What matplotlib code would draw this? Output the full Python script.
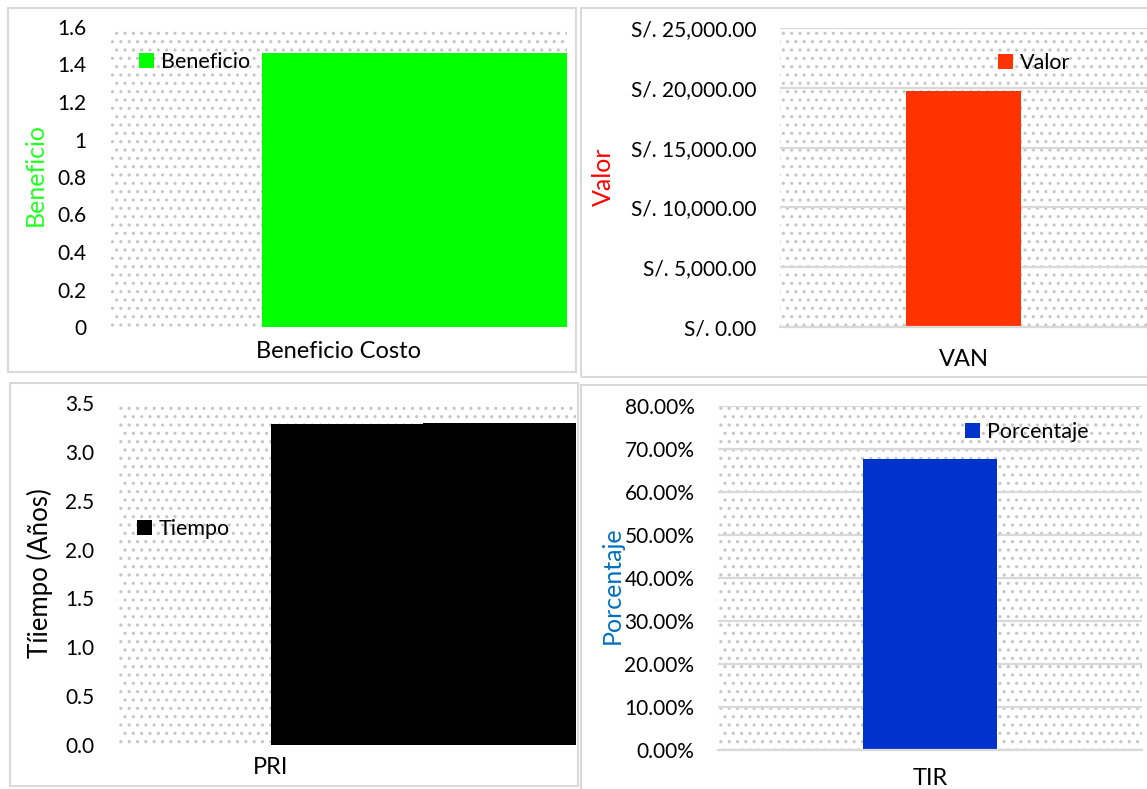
import matplotlib
matplotlib.use("Agg")
import matplotlib.pyplot as plt
from matplotlib.patches import Rectangle
from matplotlib.ticker import FuncFormatter

plt.rcParams['font.family'] = ['Lato', 'DejaVu Sans']
plt.rcParams['hatch.linewidth'] = 1.1

# data
bc_label = ["Beneficio Costo"]
bc_values = [1.46]
van_label = ["VAN"]
van_values = [19700]
pri_label = ["PRI"]
pri_values = [3.28, 3.30]
tir_label = ["TIR"]
tir_values = [0.677]

W, H = 1147, 789
fig = plt.figure(figsize=(W / 100, H / 100), dpi=100)


def box(x0, y0, x1, y1):
    # pixel box (from top-left) -> figure fraction
    return [x0 / W, 1 - y1 / H, (x1 - x0) / W, (y1 - y0) / H]


def pt(x, y):
    return (x / W, 1 - y / H)


# panel frames
for (x0, y0, x1, y1) in [(8, 8, 576, 372), (581, 8, 1152, 377),
                         (10, 383, 578, 786), (581, 385, 1152, 792)]:
    fig.patches.append(Rectangle((x0 / W, 1 - y1 / H), (x1 - x0) / W, (y1 - y0) / H,
                                 transform=fig.transFigure, fill=False,
                                 edgecolor="#d9d9d9", lw=1.5))


def style(ax, grid=False, ticks=None):
    ax.add_patch(Rectangle((0, 0), 1, 1, transform=ax.transAxes, facecolor="white",
                           edgecolor="#c6c6c6", lw=0, hatch="..", zorder=0))
    for s in ax.spines.values():
        s.set_visible(False)
    ax.tick_params(length=0, labelsize=15, pad=17)
    ax.tick_params(axis="x", labelsize=17)
    if grid:
        ax.set_yticks(ticks)
        ax.yaxis.grid(True, color="#d9d9d9", lw=1.6)
        ax.set_axisbelow(True)
        ax.spines['bottom'].set_visible(True)
        ax.spines['bottom'].set_color("#d9d9d9")
        ax.spines['bottom'].set_linewidth(1.6)


def legend(ax, handle, text, x, y):
    ax.legend([handle], [text], loc="center left", bbox_to_anchor=pt(x, y),
              bbox_transform=fig.transFigure, frameon=False, fontsize=15.5,
              handlelength=0.7, handleheight=0.7, handletextpad=0.3,
              borderpad=0, borderaxespad=0)


# 1) Beneficio Costo
ax1 = fig.add_axes(box(110, 27, 567, 327))
b = ax1.bar([-1 / 6], bc_values, width=2 / 3, align="edge", color="#00ff00", zorder=2)
ax1.set_xlim(-0.5, 0.5)
ax1.set_ylim(0, 1.6)
style(ax1)
ax1.set_yticks([0, 0.2, 0.4, 0.6, 0.8, 1.0, 1.2, 1.4, 1.6])
ax1.yaxis.set_major_formatter(FuncFormatter(lambda v, p: f"{v:g}"))
ax1.set_xticks([0])
ax1.set_xticklabels(bc_label)
ax1.tick_params(axis="x", pad=10)
fig.text(35 / W, 1 - 175 / H, "Beneficio", rotation=90, color="#22ff22",
         fontsize=18, ha="center", va="center")
legend(ax1, b.patches[0], "Beneficio", 139, 62)

# 2) VAN
ax2 = fig.add_axes(box(780, 28, 1147, 327))
b = ax2.bar([0], van_values, width=0.315, color="#ff3300", zorder=2)
ax2.set_xlim(-0.5, 0.5)
ax2.set_ylim(0, 25000)
style(ax2, grid=True, ticks=[0, 5000, 10000, 15000, 20000, 25000])
ax2.yaxis.set_major_formatter(FuncFormatter(lambda v, p: f"S/. {v:,.2f}"))
ax2.set_xticks([0])
ax2.set_xticklabels(van_label)
ax2.tick_params(axis="x", pad=16)
fig.text(603 / W, 1 - 177 / H, "Valor", rotation=90, color="#ff0000",
         fontsize=18, ha="center", va="center")
legend(ax2, b.patches[0], "Valor", 998, 63)

# 3) PRI
ax3 = fig.add_axes(box(118, 403, 576, 745))
b = ax3.bar([0, 1], pri_values, width=1.0, align="edge", color="#000000", zorder=2)
ax3.set_xlim(-1, 2)
ax3.set_ylim(0, 3.5)
style(ax3)
ax3.set_yticks([0, 0.5, 1.0, 1.5, 2.0, 2.5, 3.0, 3.5])
ax3.yaxis.set_major_formatter(FuncFormatter(lambda v, p: f"{v:.1f}"))
ax3.set_xticks([0])
ax3.set_xticklabels(pri_label)
ax3.tick_params(axis="x", pad=9)
fig.text(40 / W, 1 - 573 / H, "Tíiempo (Años)", rotation=90, color="#000000",
         fontsize=18.5, ha="center", va="center")
legend(ax3, b.patches[0], "Tiempo", 137, 529)

# 4) TIR
ax4 = fig.add_axes(box(718, 406, 1142, 750))
b = ax4.bar([0], tir_values, width=0.315, color="#0033cc", zorder=2)
ax4.set_xlim(-0.5, 0.5)
ax4.set_ylim(0, 0.8)
style(ax4, grid=True, ticks=[0, 0.1, 0.2, 0.3, 0.4, 0.5, 0.6, 0.7, 0.8])
ax4.yaxis.set_major_formatter(FuncFormatter(lambda v, p: f"{v * 100:.2f}%"))
ax4.set_xticks([0])
ax4.set_xticklabels(tir_label)
ax4.tick_params(axis="x", pad=13)
fig.text(612 / W, 1 - 585 / H, "Porcentaje", rotation=90, color="#0070c0",
         fontsize=18, ha="center", va="center")
legend(ax4, b.patches[0], "Porcentaje", 965, 432)

fig.savefig("out.png", dpi=100)
